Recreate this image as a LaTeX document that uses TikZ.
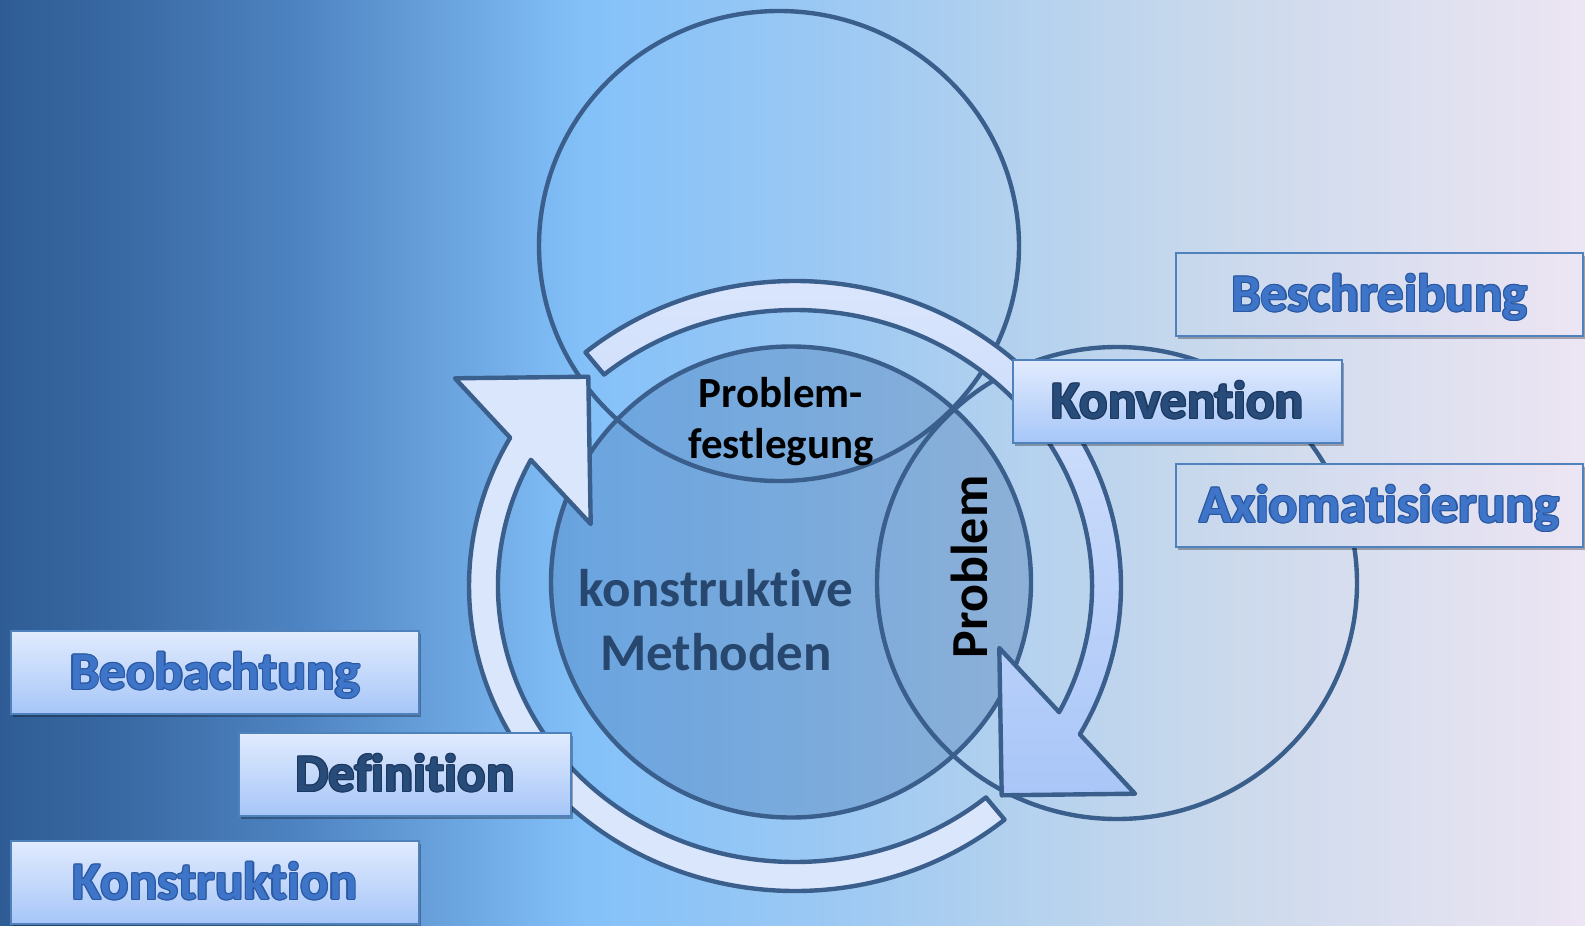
\documentclass[tikz,border=0pt]{standalone}
\usepackage{fontspec}
\newfontfamily\carl{Carlito}[Ligatures={NoCommon}]
\usetikzlibrary{calc,shadows}

% palette
\definecolor{bg0}{HTML}{2F5C94}
\definecolor{bg1}{HTML}{3A6AA4}
\definecolor{bg2}{HTML}{4E84C2}
\definecolor{bg3}{HTML}{84C1F9}
\definecolor{bg4}{HTML}{9DC9F3}
\definecolor{bg5}{HTML}{B3D1EE}
\definecolor{bg6}{HTML}{CAD9EC}
\definecolor{bg7}{HTML}{DBDFEF}
\definecolor{bg8}{HTML}{EDE5F3}
\definecolor{lineblue}{HTML}{3B5F8C}
\definecolor{boxblue}{HTML}{4F81BD}
\definecolor{wafill}{HTML}{3E75C8}
\definecolor{waedge}{HTML}{2A58A2}
\definecolor{navyfill}{HTML}{284C7A}
\definecolor{navyedge}{HTML}{1C3860}
\definecolor{textnavy}{HTML}{28476E}
\definecolor{bandA}{HTML}{D9E6FC}
\definecolor{bandtop}{HTML}{DEE8FD}
\definecolor{bandbot}{HTML}{A9C6F8}
\definecolor{boxtop}{HTML}{E1EBFE}
\definecolor{boxbot}{HTML}{A6C6F8}
\definecolor{paneleft}{HTML}{C6D7EC}
\definecolor{paneright}{HTML}{EDE5F3}
\definecolor{midfill}{HTML}{3467A6}

\pgfdeclarehorizontalshading{bgshade}{100bp}{color(0bp)=(bg0); color(25bp)=(bg0);
  color(29bp)=(bg1); color(34.5bp)=(bg2); color(43.5bp)=(bg3); color(51.5bp)=(bg4);
  color(57bp)=(bg5); color(63.5bp)=(bg6); color(69bp)=(bg7); color(75bp)=(bg8);
  color(100bp)=(bg8)}

% outlined lettering: edge colour, fill colour, text
\newlength\wo
\setlength\wo{0.6pt}
\newcommand\wshift[3]{\makebox[0pt][l]{\hspace*{#1}\raisebox{#2}{#3}}}
\newcommand\wordart[3]{{\color{#1}%
  \wshift{\wo}{0pt}{#3}\wshift{-\wo}{0pt}{#3}\wshift{0pt}{\wo}{#3}\wshift{0pt}{-\wo}{#3}%
  \wshift{.7\wo}{.7\wo}{#3}\wshift{-.7\wo}{.7\wo}{#3}%
  \wshift{.7\wo}{-.7\wo}{#3}\wshift{-.7\wo}{-.7\wo}{#3}}%
  \textcolor{#2}{#3}}

\tikzset{
  ring/.style={draw=lineblue, line width=2.2pt},
  band/.style={draw=lineblue, line width=2.2pt, line join=round},
  bigfont/.style={font=\carl\bfseries\fontsize{26.5}{32}\selectfont},
  boxbase/.style={bigfont, draw=boxblue, line width=1.2pt, inner sep=0pt,
    minimum height=41.5pt, text height=17pt, text depth=0pt,
    drop shadow={opacity=0.3, fill=black, shadow xshift=1pt, shadow yshift=-1.3pt}},
  panebox/.style={boxbase, left color=paneleft, right color=paneright},
  fillbox/.style={boxbase, top color=boxtop, bottom color=boxbot}
}

\begin{document}
\begin{tikzpicture}[x=0.5pt, y=-0.5pt]
\useasboundingbox (0,0) rectangle (1585,926);
\fill[shading=bgshade] (0,0) rectangle (1585,926);

\coordinate (C) at (795,586);

% three overlapping ovals
\fill[midfill, fill opacity=0.3] (791,582) ellipse [x radius=120pt, y radius=117.75pt];
\draw[ring] (779,246) ellipse [x radius=120pt, y radius=117.5pt];
\draw[ring] (791,582) ellipse [x radius=120pt, y radius=117.75pt];
\draw[ring] (1117,583) ellipse [x radius=120pt, y radius=118pt];

% circular arrow, lower-left half
\filldraw[band, fill=bandA]
  ($(C)+(-50:163pt and 152.5pt)$)
  arc[start angle=-50, end angle=-209.1, x radius=163pt, y radius=152.5pt]
  -- ($(C)+(-340,-207.7)$) -- ($(C)+(-206.7,-209.3)$) -- ($(C)+(-204.3,-62)$)
  -- ($(C)+(152.8:148.5pt and 138pt)$)
  arc[start angle=152.8, end angle=310, x radius=148.5pt, y radius=138pt]
  -- cycle;

% circular arrow, upper-right half
\filldraw[band, top color=bandtop, bottom color=bandbot]
  ($(C)+(130:163pt and 152.5pt)$)
  arc[start angle=130, end angle=-29.1, x radius=163pt, y radius=152.5pt]
  -- ($(C)+(340,207.7)$) -- ($(C)+(206.7,209.3)$) -- ($(C)+(204.3,62)$)
  -- ($(C)+(-27.2:148.5pt and 138pt)$)
  arc[start angle=-27.2, end angle=130, x radius=148.5pt, y radius=138pt]
  -- cycle;

% labels inside the ovals
\node[font=\carl\bfseries\fontsize{21.5}{25.5}\selectfont, align=center, text=black]
  (pf) at (781,422) {Problem-\\festlegung};
\node[bigfont, align=center, text=textnavy] (km) at (716,620) {konstruktive\\Methoden};
\node[font=\carl\bfseries\fontsize{26}{30}\selectfont, rotate=90, text=black]
  (pr) at (969,567) {Problem};

% method boxes
\node[panebox, minimum width=203.5pt] (besch) at (1379.5,294.5)
  {\wordart{waedge}{wafill}{Beschreibung}};
\node[fillbox, minimum width=164.5pt] (konv) at (1177.5,401.5)
  {\wordart{navyedge}{navyfill}{Konvention}};
\node[panebox, minimum width=203.5pt] (axio) at (1379.5,505.5)
  {\wordart{waedge}{wafill}{Axiomatisierung}};
\node[fillbox, minimum width=204.25pt] (beob) at (215,672.5)
  {\wordart{waedge}{wafill}{Beobachtung}};
\node[fillbox, minimum width=166.25pt] (defi) at (405,774.5)
  {\wordart{navyedge}{navyfill}{Definition}};
\node[fillbox, minimum width=204.25pt] (konst) at (215,882.5)
  {\wordart{waedge}{wafill}{Konstruktion}};
\end{tikzpicture}
\end{document}
